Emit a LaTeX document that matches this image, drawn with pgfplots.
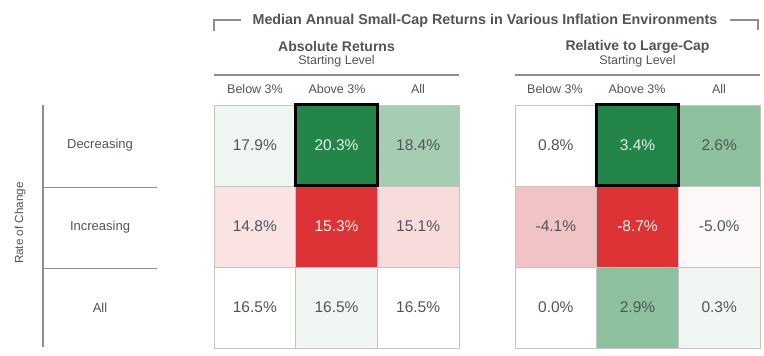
\documentclass[border=0pt]{standalone}
\usepackage{pgfplots}
\pgfplotsset{compat=1.18}
\usepackage{fontspec}
\setmainfont{Liberation Sans}
\definecolor{txt}{HTML}{4F555A}
\definecolor{gridc}{HTML}{C4C4C4}
\definecolor{linec}{HTML}{8E8E8E}
\definecolor{dkgreen}{HTML}{23854A}
\definecolor{red1}{HTML}{DE3336}
\definecolor{ltgreenA}{HTML}{A6CDB1}
\definecolor{ltgreenB}{HTML}{8DC19E}
\definecolor{palegreen}{HTML}{EFF5F1}
\definecolor{palegreenB}{HTML}{F2F6F3}
\definecolor{pinkA}{HTML}{FBE3E3}
\definecolor{pinkB}{HTML}{F8DCDC}
\definecolor{pinkC}{HTML}{F2C3C4}
\definecolor{pinkD}{HTML}{FDF8F8}
\definecolor{wtxt}{HTML}{E6F1E8}
\pgfplotsset{
  cellax/.style={
    anchor=south west, scale only axis, width=245pt, height=243pt,
    xmin=0, xmax=3, ymin=0, ymax=3, hide axis, clip=false
  },
  cell/.style={draw=gridc, line width=0.8pt, fill=#1},
  lbl/.style={only marks, mark=*, mark size=0pt, mark options={draw=none,fill=none},
    point meta=explicit symbolic,
    nodes near coords={\pgfplotspointmeta\%},
    nodes near coords align=center,
    every node near coord/.style={font=\fontsize{15.5}{16}\selectfont, text=#1, anchor=center}}
}
\begin{document}
\begin{tikzpicture}[x=1pt,y=1pt]
\path[use as bounding box] (0,0) rectangle (764,356);

% ---------- left panel: Absolute Returns ----------
\begin{axis}[cellax, at={(214pt,8pt)}]
\addplot[cell=palegreen] coordinates {(0,2) (1,2) (1,3) (0,3)} -- cycle;
\addplot[cell=dkgreen]   coordinates {(1,2) (2,2) (2,3) (1,3)} -- cycle;
\addplot[cell=ltgreenA]  coordinates {(2,2) (3,2) (3,3) (2,3)} -- cycle;
\addplot[cell=pinkA]     coordinates {(0,1) (1,1) (1,2) (0,2)} -- cycle;
\addplot[cell=red1]      coordinates {(1,1) (2,1) (2,2) (1,2)} -- cycle;
\addplot[cell=pinkB]     coordinates {(2,1) (3,1) (3,2) (2,2)} -- cycle;
\addplot[cell=white]     coordinates {(0,0) (1,0) (1,1) (0,1)} -- cycle;
\addplot[cell=palegreenB]coordinates {(1,0) (2,0) (2,1) (1,1)} -- cycle;
\addplot[cell=white]     coordinates {(2,0) (3,0) (3,1) (2,1)} -- cycle;
\addplot[draw=black, line width=3pt, fill=none] coordinates {(1,2) (2,2) (2,3) (1,3)} -- cycle;
\addplot[lbl=txt] table[meta=v] {
x y v
0.5 2.5 17.9
2.5 2.5 18.4
0.5 1.5 14.8
2.5 1.5 15.1
0.5 0.5 16.5
1.5 0.5 16.5
2.5 0.5 16.5
};
\addplot[lbl=wtxt] table[meta=v] {
x y v
1.5 2.5 20.3
1.5 1.5 15.3
};
\end{axis}

% ---------- right panel: Relative to Large-Cap ----------
\begin{axis}[cellax, at={(515pt,8pt)}]
\addplot[cell=white]     coordinates {(0,2) (1,2) (1,3) (0,3)} -- cycle;
\addplot[cell=dkgreen]   coordinates {(1,2) (2,2) (2,3) (1,3)} -- cycle;
\addplot[cell=ltgreenB]  coordinates {(2,2) (3,2) (3,3) (2,3)} -- cycle;
\addplot[cell=pinkC]     coordinates {(0,1) (1,1) (1,2) (0,2)} -- cycle;
\addplot[cell=red1]      coordinates {(1,1) (2,1) (2,2) (1,2)} -- cycle;
\addplot[cell=pinkD]     coordinates {(2,1) (3,1) (3,2) (2,2)} -- cycle;
\addplot[cell=white]     coordinates {(0,0) (1,0) (1,1) (0,1)} -- cycle;
\addplot[cell=ltgreenB]  coordinates {(1,0) (2,0) (2,1) (1,1)} -- cycle;
\addplot[cell=palegreenB]coordinates {(2,0) (3,0) (3,1) (2,1)} -- cycle;
\addplot[draw=black, line width=3pt, fill=none] coordinates {(1,2) (2,2) (2,3) (1,3)} -- cycle;
\addplot[lbl=txt] table[meta=v] {
x y v
0.5 2.5 0.8
2.5 2.5 2.6
0.5 1.5 -4.1
2.5 1.5 -5.0
0.5 0.5 0.0
1.5 0.5 2.9
2.5 0.5 0.3
};
\addplot[lbl=wtxt] table[meta=v] {
x y v
1.5 2.5 3.4
1.5 1.5 -8.7
};
\end{axis}

% ---------- headers ----------
\node[font=\bfseries\fontsize{14.3}{15}\selectfont, text=txt] at (485,335) {Median Annual Small-Cap Returns in Various Inflation Environments};
\draw[linec, line width=1.3pt] (241,336) -- (214,336) -- (214,325);
\draw[linec, line width=1.3pt] (730,336) -- (758,336) -- (758,326);

\node[font=\bfseries\fontsize{14}{15}\selectfont, text=txt] at (336.5,309) {Absolute Returns};
\node[font=\fontsize{12.5}{13}\selectfont, text=txt] at (336.5,295) {Starting Level};
\draw[linec, line width=1.8pt] (214,281) -- (459,281);
\node[font=\bfseries\fontsize{14}{15}\selectfont, text=txt] at (637.5,309) {Relative to Large-Cap};
\node[font=\fontsize{12.5}{13}\selectfont, text=txt] at (637.5,295) {Starting Level};
\draw[linec, line width=1.8pt] (515,281) -- (760,281);

\foreach \x/\t in {255/{Below 3\%},337/{Above 3\%},418/All,555/{Below 3\%},637/{Above 3\%},719/All}
  \node[font=\fontsize{12.5}{13}\selectfont, text=txt] at (\x,267) {\t};

% ---------- row labels ----------
\draw[linec, line width=1.3pt] (43,251) -- (43,9);
\draw[linec, line width=0.9pt] (43,169) -- (157,169);
\draw[linec, line width=0.9pt] (43,88) -- (157,88);
\node[font=\fontsize{13}{14}\selectfont, text=txt] at (100,211) {Decreasing};
\node[font=\fontsize{13}{14}\selectfont, text=txt] at (100,129) {Increasing};
\node[font=\fontsize{13}{14}\selectfont, text=txt] at (100,48) {All};
\node[font=\fontsize{11.7}{12}\selectfont, text=txt, rotate=90] at (20,133) {Rate of Change};
\end{tikzpicture}
\end{document}
